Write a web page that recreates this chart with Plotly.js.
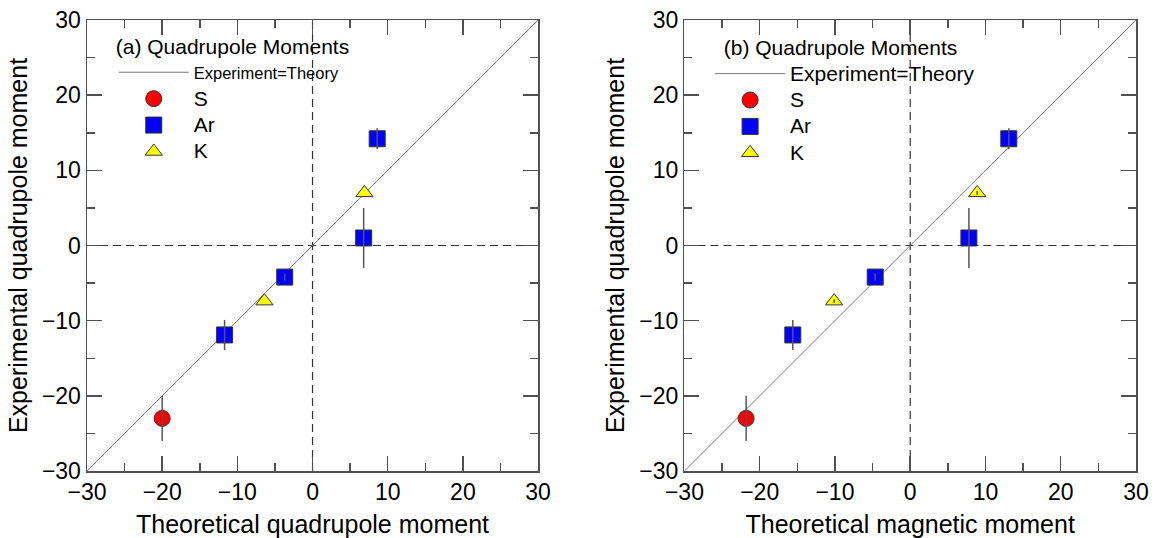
<!DOCTYPE html>
<html>
<head>
<meta charset="utf-8">
<script src="https://cdn.plot.ly/plotly-3.0.1.min.js"></script>
<style>html,body{margin:0;padding:0;background:#fff;}#chart{width:1158px;height:538px;}</style>
</head>
<body>
<div id="chart"></div>
<script>
// ---- Data ----
// Experimental values (shared by both panels)
const expS = [-23];
const errS = [3];
const expAr = [-11.9, -4.2, 1.0, 14.2];
const errAr = [2, 0.5, 4, 1.4];
const expK = [-7.4, 7.0];
const errKa = [0, 0];
const errKb = [0.25, 0.25];

// Panel (a): theoretical quadrupole moments
const theoA_S = [-20];
const theoA_Ar = [-11.7, -3.7, 6.8, 8.6];
const theoA_K = [-6.4, 6.9];

// Panel (b): theoretical magnetic moments
const theoB_S = [-21.8];
const theoB_Ar = [-15.6, -4.65, 7.8, 13.1];
const theoB_K = [-10.1, 8.9];

// Reference lines
const identityLine = [-30, 30];
const zeroPair = [0, 0];

const axisTicks = [-30, -20, -10, 0, 10, 20, 30];

const FONT = '"Liberation Sans", Arial, Helvetica, sans-serif';
const AXC = '#505050';

function panelTraces(xa, ya, legendId, theoS, theoAr, theoK, errK, lineLabelSize) {
  const traces = [];
  // dashed zero lines
  traces.push({x: zeroPair, y: identityLine, xaxis: xa, yaxis: ya, mode: 'lines',
    line: {color: '#333', width: 1.2, dash: '8px,5px'}, showlegend: false, hoverinfo: 'skip'});
  traces.push({x: identityLine, y: zeroPair, xaxis: xa, yaxis: ya, mode: 'lines',
    line: {color: '#333', width: 1.2, dash: '8px,5px'}, showlegend: false, hoverinfo: 'skip'});
  // Experiment = Theory
  traces.push({x: identityLine, y: identityLine, xaxis: xa, yaxis: ya, mode: 'lines',
    line: {color: '#777', width: 1}, legend: legendId,
    name: '<span style="font-size:' + lineLabelSize + 'px">Experiment=Theory</span>'});
  // S
  traces.push({x: theoS, y: expS, xaxis: xa, yaxis: ya, mode: 'markers', legend: legendId,
    name: '<span style="font-size:21px">S</span>',
    marker: {symbol: 'circle', size: 16, color: '#ff0000', line: {color: '#333', width: 1}}});
  // Ar
  traces.push({x: theoAr, y: expAr, xaxis: xa, yaxis: ya, mode: 'markers', legend: legendId,
    name: '<span style="font-size:21px">Ar</span>',
    marker: {symbol: 'square', size: 16, color: '#0000ff', line: {color: '#333', width: 1}}});
  // K
  traces.push({x: theoK, y: expK, xaxis: xa, yaxis: ya, mode: 'markers', legend: legendId,
    name: '<span style="font-size:21px">K</span>',
    marker: {symbol: 'triangle-up', size: 15, color: '#ffff00', line: {color: '#333', width: 1}}});
  // error bars drawn on top of markers
  const ebar = (xs, ys, es) => ({x: xs, y: ys, xaxis: xa, yaxis: ya, mode: 'markers',
    marker: {size: 1, opacity: 0}, showlegend: false, hoverinfo: 'skip',
    error_y: {type: 'data', array: es, visible: true, color: '#555', thickness: 1.5, width: 0}});
  traces.push(ebar(theoS, expS, errS));
  traces.push(ebar(theoAr, expAr, errAr));
  traces.push(ebar(theoK, expK, errK));
  return traces;
}

const data = [].concat(
  panelTraces('x', 'y', 'legend', theoA_S, theoA_Ar, theoA_K, errKa, 16.5),
  panelTraces('x2', 'y2', 'legend2', theoB_S, theoB_Ar, theoB_K, errKb, 21)
);

function xAxis(domain, anchor, title) {
  return {
    domain: domain, anchor: anchor, range: [-30, 30], tickvals: axisTicks,
    ticks: 'inside', ticklen: 15, tickwidth: 1.5, tickcolor: AXC,
    showline: true, linecolor: AXC, linewidth: 1.5, mirror: 'allticks',
    showgrid: false, zeroline: false,
    minor: {dtick: 5, ticks: 'inside', ticklen: 8, tickwidth: 1.5, tickcolor: AXC, showgrid: false},
    tickfont: {size: 23, family: FONT, color: '#000'},
    title: {text: title, font: {size: 25, family: FONT, color: '#000'}}
  };
}
function yAxis(anchor, title) {
  return xAxis([0, 1], anchor, title);
}

const layout = {
  width: 1158, height: 538,
  margin: {l: 87, r: 22, t: 20, b: 67},
  paper_bgcolor: '#fff', plot_bgcolor: '#fff',
  font: {family: FONT, color: '#000'},
  xaxis: xAxis([0, 0.43], 'y', 'Theoretical quadrupole moment'),
  yaxis: yAxis('x', 'Experimental quadrupole moment'),
  xaxis2: xAxis([0.5695, 1], 'y2', 'Theoretical magnetic moment'),
  yaxis2: yAxis('x2', 'Experimental quadrupole moment'),
  legend: {
    x: 0.0255, y: 0.985, xanchor: 'left', yanchor: 'top',
    bgcolor: 'rgba(0,0,0,0)', borderwidth: 0, itemwidth: 70,
    font: {size: 18, family: FONT, color: '#000'},
    title: {text: '(a) Quadrupole Moments', font: {size: 21, family: FONT, color: '#000'}},
    itemclick: false, itemdoubleclick: false
  },
  legend2: {
    x: 0.594, y: 0.982, xanchor: 'left', yanchor: 'top',
    bgcolor: 'rgba(0,0,0,0)', borderwidth: 0, itemwidth: 70,
    font: {size: 18, family: FONT, color: '#000'},
    title: {text: '\u00a0\u00a0(b) Quadrupole Moments', font: {size: 21, family: FONT, color: '#000'}},
    itemclick: false, itemdoubleclick: false
  },
  showlegend: true
};

Plotly.newPlot('chart', data, layout, {displayModeBar: false, staticPlot: true});
</script>
</body>
</html>
